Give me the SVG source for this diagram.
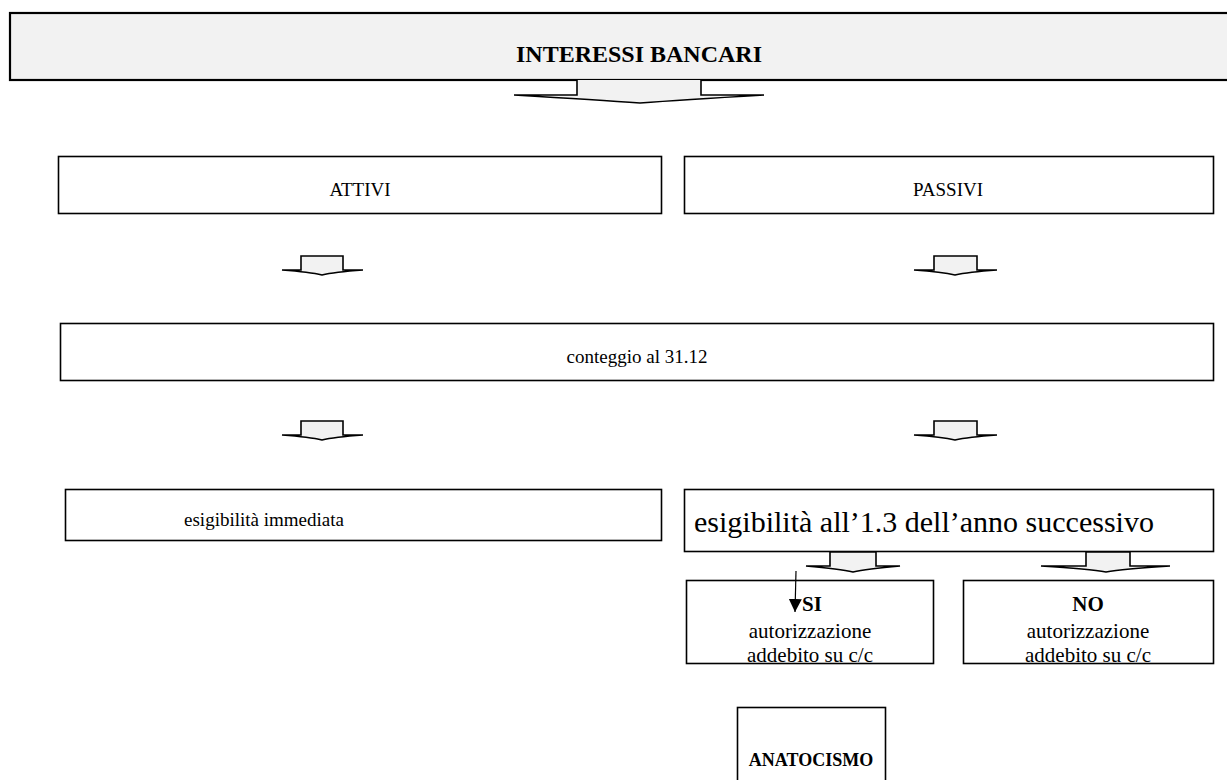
<svg xmlns="http://www.w3.org/2000/svg" width="1227" height="780" viewBox="0 0 1227 780">
<style>
.box{fill:#fff;stroke:#000;stroke-width:1.6}
.arr{fill:#f2f2f2;stroke:#000;stroke-width:1.6;stroke-linejoin:miter}
text{font-family:"Liberation Serif","Times New Roman",serif;font-size:19px;fill:#000}
.b{font-weight:bold}
.m{text-anchor:middle}
.title{font-size:24px;font-weight:bold}
.s{font-size:21px}
.a{font-size:18px;font-weight:bold}
.big{font-size:30px}
</style>
<defs>
<marker id="ah" markerWidth="13" markerHeight="13" refX="13" refY="6.5" orient="auto" markerUnits="userSpaceOnUse" viewBox="0 0 13 13">
<path d="M0,0 L13,6.5 L0,13 Z" fill="#000"/>
</marker>
</defs>
<rect width="1227" height="780" fill="#fff"/>
<g id="n-interessi">
<rect x="10" y="13" width="1230" height="67" fill="#f2f2f2" stroke="#000" stroke-width="2.2"/>
<text class="title m" x="639" y="62">INTERESSI BANCARI</text>
</g>
<g id="n-attivi">
<rect class="box" x="58.5" y="156.5" width="603" height="57"/>
<text class="m" x="360" y="196">ATTIVI</text>
</g>
<g id="n-passivi">
<rect class="box" x="684.5" y="156.5" width="529" height="57"/>
<text class="m" x="948" y="196">PASSIVI</text>
</g>
<g id="n-conteggio">
<rect class="box" x="60.5" y="323.5" width="1153" height="57"/>
<text class="m" x="637" y="363">conteggio al 31.12</text>
</g>
<g id="n-immediata">
<rect class="box" x="65.5" y="489.5" width="596" height="51"/>
<text class="m" x="264" y="526">esigibilità immediata</text>
</g>
<g id="n-successivo">
<rect class="box" x="684.5" y="489.5" width="529" height="62"/>
<text class="big" x="694" y="532">esigibilità all’1.3 dell’anno successivo</text>
</g>
<g id="n-si">
<rect class="box" x="686.5" y="580.5" width="247" height="83"/>
<text class="s b m" x="812" y="611">SI</text>
<text class="s m" x="810" y="638">autorizzazione</text>
<text class="s m" x="810" y="662">addebito su c/c</text>
</g>
<g id="n-no">
<rect class="box" x="963.5" y="580.5" width="250" height="83"/>
<text class="s b m" x="1088" y="611">NO</text>
<text class="s m" x="1088" y="638">autorizzazione</text>
<text class="s m" x="1088" y="662">addebito su c/c</text>
</g>
<g id="n-anatocismo">
<rect class="box" x="737.5" y="707.5" width="148" height="90"/>
<text class="a m" x="811" y="766">ANATOCISMO</text>
</g>
<g id="connectors">
<path class="arr" d="M577,80 L577,95 L514,95 Q600,100 640,103 Q680,100 764,95 L701,95 L701,80"/>
<path class="arr" d="M301,256 L301,270 L282,270 Q310,272 322,275 Q334,272 363,270 L343,270 L343,256 Z"/>
<path class="arr" d="M934,256 L934,270 L914,270 Q942,272 955,275 Q968,272 997,270 L977,270 L977,256 Z"/>
<path class="arr" d="M301,421 L301,435 L282,435 Q310,437 322,440 Q334,437 363,435 L343,435 L343,421 Z"/>
<path class="arr" d="M934,421 L934,435 L914,435 Q942,437 955,440 Q968,437 997,435 L977,435 L977,421 Z"/>
<path class="arr" d="M830,552 L830,566 L806,566 Q840,569 853,572 Q866,569 900,566 L876,566 L876,552 Z"/>
<path class="arr" d="M1086,552 L1086,566 L1041,566 Q1090,569 1106,572 Q1122,569 1170,566 L1130,566 L1130,552 Z"/>
<line x1="796" y1="571" x2="795" y2="612" stroke="#000" stroke-width="1.2" marker-end="url(#ah)"/>
</g>
</svg>
